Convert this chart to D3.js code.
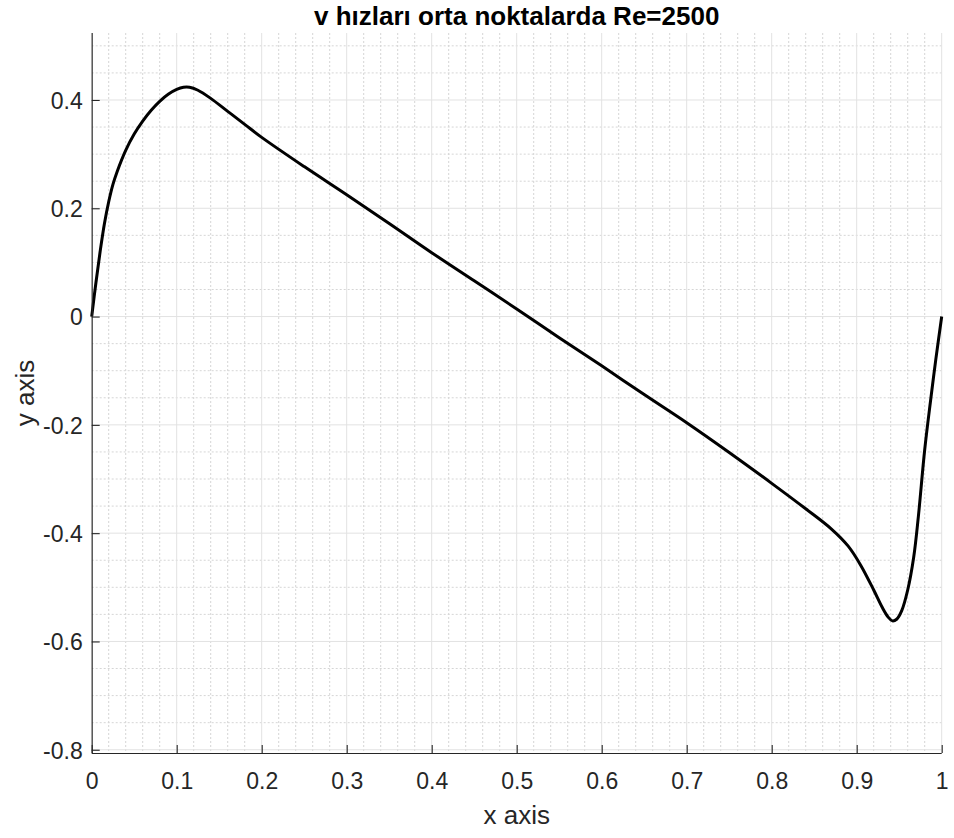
<!DOCTYPE html>
<html>
<head>
<meta charset="utf-8">
<script src="https://cdn.jsdelivr.net/npm/d3@7"></script>
<style>
  html, body { margin: 0; padding: 0; background: #fff; }
  svg { display: block; }
  text { font-family: "Liberation Sans", Arial, Helvetica, sans-serif; }
</style>
</head>
<body>
<svg id="chart" width="954" height="838"></svg>
<script>
// ---- data ----
const titleText = "v hızları orta noktalarda Re=2500";
const xLabelText = "x axis";
const yLabelText = "y axis";
const xTicks = [0, 0.1, 0.2, 0.3, 0.4, 0.5, 0.6, 0.7, 0.8, 0.9, 1];
const yTicks = [-0.8, -0.6, -0.4, -0.2, 0, 0.2, 0.4];
const xTickLabels = ["0", "0.1", "0.2", "0.3", "0.4", "0.5", "0.6", "0.7", "0.8", "0.9", "1"];
const yTickLabels = ["-0.8", "-0.6", "-0.4", "-0.2", "0", "0.2", "0.4"];
const curveX = [0, 0.005, 0.01, 0.015, 0.02, 0.025, 0.03, 0.04, 0.05, 0.06, 0.07, 0.08, 0.09, 0.1, 0.108, 0.115, 0.125, 0.14, 0.16, 0.18, 0.2, 0.25, 0.3, 0.35, 0.4, 0.45, 0.5, 0.55, 0.6, 0.65, 0.7, 0.75, 0.8, 0.84, 0.87, 0.89, 0.905, 0.92, 0.93, 0.937, 0.942, 0.947, 0.953, 0.96, 0.967, 0.9725, 0.98, 0.987, 0.993, 1];
const curveY = [0, 0.063, 0.121, 0.172, 0.212, 0.244, 0.268, 0.307, 0.337, 0.361, 0.381, 0.3975, 0.4105, 0.4195, 0.4235, 0.4235, 0.418, 0.403, 0.379, 0.355, 0.331, 0.277, 0.225, 0.172, 0.118, 0.066, 0.014, -0.039, -0.091, -0.144, -0.196, -0.251, -0.308, -0.355, -0.392, -0.424, -0.460, -0.505, -0.537, -0.555, -0.562, -0.559, -0.543, -0.505, -0.445, -0.37, -0.246, -0.154, -0.08, 0];

// ---- layout ----
const pL = 91.7, pR = 941.7, pT = 33, pB = 753;
const x = d3.scaleLinear().domain([0, 1]).range([pL, pR]);
const y = d3.scaleLinear().domain([-0.806, 0.5237]).range([pB, pT]);

const svg = d3.select("#chart");
const axisColor = "#262626";

// minor grid
const xMinor = d3.range(0, 1.0001, 0.02).filter(v => Math.abs(v * 10 - Math.round(v * 10)) > 1e-6);
const yMinor = d3.range(-0.8, 0.52, 0.05).filter(v => Math.abs(v * 5 - Math.round(v * 5)) > 1e-6);
const grid = svg.append("g");
grid.selectAll("line.xm").data(xMinor).join("line")
  .attr("x1", d => x(d)).attr("x2", d => x(d)).attr("y1", pT).attr("y2", pB)
  .attr("stroke", "#d6d6d6").attr("stroke-width", 1).attr("stroke-dasharray", "2,2");
grid.selectAll("line.ym").data(yMinor).join("line")
  .attr("y1", d => y(d)).attr("y2", d => y(d)).attr("x1", pL).attr("x2", pR)
  .attr("stroke", "#d6d6d6").attr("stroke-width", 1).attr("stroke-dasharray", "2,2");
// major grid
grid.selectAll("line.xM").data(xTicks).join("line")
  .attr("x1", d => x(d)).attr("x2", d => x(d)).attr("y1", pT).attr("y2", pB)
  .attr("stroke", "#e2e2e2").attr("stroke-width", 1);
grid.selectAll("line.yM").data(yTicks).join("line")
  .attr("y1", d => y(d)).attr("y2", d => y(d)).attr("x1", pL).attr("x2", pR)
  .attr("stroke", "#e2e2e2").attr("stroke-width", 1);

// curve
const pts = curveX.map((v, i) => [v, curveY[i]]);
svg.append("path")
  .datum(pts)
  .attr("fill", "none")
  .attr("stroke", "#000")
  .attr("stroke-width", 3)
  .attr("stroke-linejoin", "round")
  .attr("d", d3.line().x(d => x(d[0])).y(d => y(d[1])).curve(d3.curveCatmullRom.alpha(0.5)));

// axes
const xAxis = d3.axisBottom(x).tickValues(xTicks).tickSizeInner(-8).tickSizeOuter(0)
  .tickFormat((d, i) => xTickLabels[i]);
const yAxis = d3.axisLeft(y).tickValues(yTicks).tickSizeInner(-8).tickSizeOuter(0)
  .tickFormat((d, i) => yTickLabels[i]);

const gx = svg.append("g").attr("transform", `translate(0,${pB})`).call(xAxis);
const gy = svg.append("g").attr("transform", `translate(${pL},0)`).call(yAxis);
[gx, gy].forEach(g => {
  g.select(".domain").attr("stroke", axisColor).attr("stroke-width", 1.1);
  g.selectAll(".tick line").attr("stroke", axisColor).attr("stroke-width", 1.1);
  g.selectAll(".tick text").attr("fill", axisColor).attr("font-size", 23)
    .attr("font-family", "'Liberation Sans', Arial, sans-serif");
});
gx.select(".domain").attr("d", `M${pL},0.5H${pR}`);
gy.select(".domain").attr("d", `M0.5,${pB}V${pT}`);
gx.selectAll(".tick text").attr("dy", "0.71em").attr("y", 20);
gy.selectAll(".tick text").attr("x", -9).attr("dy", "0.36em");

// labels
svg.append("text")
  .attr("x", (pL + pR) / 2).attr("y", 824)
  .attr("text-anchor", "middle").attr("font-size", 26).attr("fill", axisColor)
  .text(xLabelText);
svg.append("text")
  .attr("transform", `translate(34,${(pT + pB) / 2}) rotate(-90)`)
  .attr("text-anchor", "middle").attr("font-size", 26).attr("fill", axisColor)
  .text(yLabelText);
svg.append("text")
  .attr("x", (pL + pR) / 2).attr("y", 25)
  .attr("text-anchor", "middle").attr("font-size", 26).attr("font-weight", "bold").attr("fill", "#000")
  .text(titleText);
</script>
</body>
</html>
